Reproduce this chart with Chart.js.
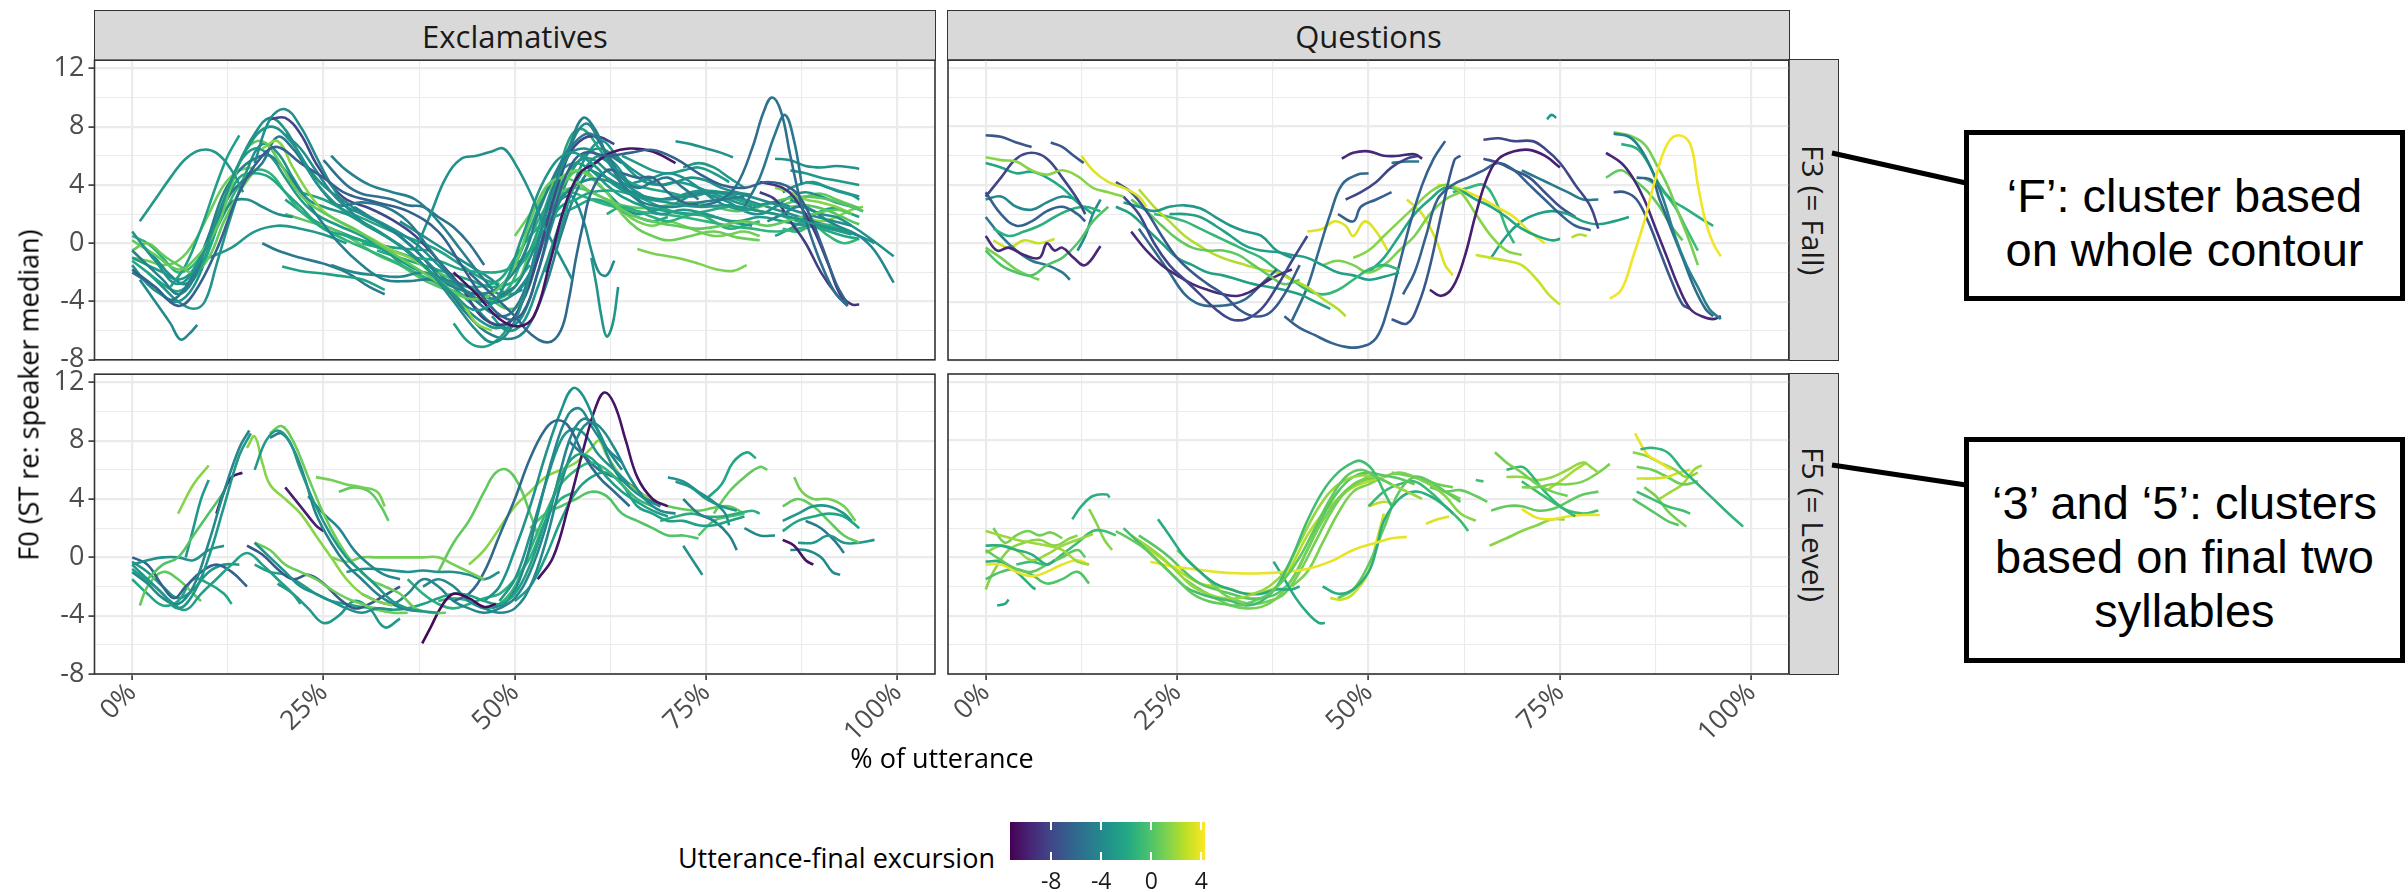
<!DOCTYPE html>
<html>
<head>
<meta charset="utf-8">
<script src="https://cdn.jsdelivr.net/npm/chart.js@4.4.1/dist/chart.umd.min.js"></script>
<style>
body { margin: 0; background: #fff; }
#wrap { position: relative; width: 2408px; height: 892px; overflow: hidden; font-family: "Open Sans", sans-serif; }
canvas { position: absolute; }
.strip { position: absolute; background: #D9D9D9; border: 1.6px solid #333; box-sizing: border-box;
  display: flex; align-items: center; justify-content: center; color: #1A1A1A; font-size: 31px; }
.strip.v span { writing-mode: vertical-rl; font-size: 30px; }
.title { position: absolute; color: #000; font-size: 27px; white-space: nowrap; }
.box { position: absolute; border: 5px solid #000; box-sizing: border-box; background: #fff; padding-top: 14px;
  display: flex; align-items: center; justify-content: center; text-align: center;
  font-family: "Liberation Sans", Arial, sans-serif; font-size: 47px; line-height: 54px; color: #000; }
.cb-label { position: absolute; font-size: 23px; color: #1A1A1A; transform: translateX(-50%); }
.cb-tick { position: absolute; width: 2px; background: #fff; }
</style>
</head>
<body>
<div id="wrap">
  <div class="strip" style="left:94px;top:10px;width:842px;height:51px;">Exclamatives</div>
  <div class="strip" style="left:947px;top:10px;width:843px;height:51px;">Questions</div>
  <div class="strip v" style="left:1788px;top:59px;width:51px;height:302px;"><span>F3 (= Fall)</span></div>
  <div class="strip v" style="left:1788px;top:373px;width:51px;height:302px;"><span>F5 (= Level)</span></div>

  <canvas id="cTL" width="940" height="340" style="left:0;top:40px;"></canvas>
  <canvas id="cTR" width="860" height="340" style="left:940px;top:40px;"></canvas>
  <canvas id="cBL" width="940" height="420" style="left:0;top:354px;"></canvas>
  <canvas id="cBR" width="860" height="420" style="left:940px;top:354px;"></canvas>

  <div class="title" style="left:28px;top:395px;transform:translate(-50%,-50%) rotate(-90deg);">F0 (ST re: speaker median)</div>
  <div class="title" style="left:942px;top:757px;transform:translate(-50%,-50%);">% of utterance</div>

  <div class="title" style="left:995px;top:857px;transform:translate(-100%,-50%);">Utterance-final excursion</div>
  <div id="colorbar" style="position:absolute;left:1010px;top:822px;width:195px;height:38px;"></div>

  <div class="box" style="left:1964px;top:130px;width:441px;height:171px;">‘F’: cluster based<br>on whole contour</div>
  <div class="box" style="left:1964px;top:437px;width:441px;height:226px;">‘3’ and ‘5’: clusters<br>based on final two<br>syllables</div>
  <svg style="position:absolute;left:0;top:0;" width="2408" height="892">
    <line x1="1832" y1="153" x2="1966" y2="183" stroke="#000" stroke-width="5"/>
    <line x1="1832" y1="465" x2="1966" y2="485" stroke="#000" stroke-width="5"/>
  </svg>
</div>

<script>
// Achsen
const xTicks = [0, 12.5, 25, 37.5, 50, 62.5, 75, 87.5, 100];
const yTicks = [-8, -6, -4, -2, 0, 2, 4, 6, 8, 10, 12];
const xRange = [-4.92, 104.9];
const yRange = [-8.0, 12.56];

// Farbskala (Utterance-final excursion)
const colorRange = [-11.3, 4.3];
const colorTicks = [-8, -4, 0, 4];
const viridisStops = ['#440154', '#482475', '#414487', '#355f8d', '#2a788e', '#21918c',
  '#22a884', '#44bf70', '#7ad151', '#bddf26', '#fde725'];

// Konturen: c = Farbwert, p = [% der Äußerung, F0]
const exclFall = [
  {c: -3.2, p: [[0,0.8],[3,-1.2],[6,-2.8],[9,-1],[12,3],[15,6.5],[18,8],[21,6.8],[24,4.2],[27,2.5],[30,1.4],[34,0.2],[38,-1.5],[42,-3.5],[45,-4.6],[48,-3.5],[51,0.5],[54,4.5],[57,6.2],[60,5.5],[63,4],[66,3.2],[70,2.8],[74,2.5],[78,2.6],[82,2.2],[86,1.8],[90,1.2],[94,0.8]]},
  {c: -6.5, p: [[0,-1.8],[3,-3],[6,-4.3],[8,-3.5],[11,-0.5],[14,3.5],[17,6],[19,6.6],[22,5.5],[25,4.5],[28,3.4],[32,2.8],[36,2.2],[40,0.8],[43,-1.5],[46,-3.8],[49,-5.2],[51,-4.8],[53,-2],[55,2],[57,5],[59,6.2],[62,6],[65,6.2],[68,6.4],[71,5.8],[74,4.8],[77,4],[80,3.8],[83,4.2],[86,3.8],[88,2.5],[90,0],[92,-2.8],[93.5,-4.2]]},
  {c: -10.5, p: [[42,-2],[45,-3.5],[48,-5.2],[50.5,-5.7],[52.5,-5],[54.5,-1.5],[56.5,2.5],[58.5,4.8],[60.5,5.5],[62.5,6.2],[65,6.5],[68,6.3],[71,5.5]]},
  {c: -4, p: [[1,-2.5],[3,-4],[5,-5.5],[6.3,-6.6],[7.5,-6.2],[8.5,-5.6]]},
  {c: -3.8, p: [[16,5.5],[18,8.5],[20,9.2],[22,8],[24,6],[26,4],[28,2.5],[30,1.5],[33,0.5],[36,-0.5],[39,-2],[42,-4],[45,-6],[47,-6.8],[49,-6.2],[51,-4],[53,0],[55,3.5],[57,6],[59,6.5],[61,6],[63,5.2],[65,4]]},
  {c: -3, p: [[1,1.5],[3,3],[5,4.5],[7,5.8],[9,6.4],[11,6.2],[13,5],[14.5,3.5]]},
  {c: -3.5, p: [[37,-0.5],[39,2],[41,4.5],[43,5.8],[45,6],[47,6.3],[48.5,6.5],[50,5.5],[52,3.5],[54,1],[56,-1],[57.5,-2.5]]},
  {c: -6, p: [[44,-2],[47,-3.5],[50,-5],[52,-6.2],[54.4,-6.8],[56,-6],[57,-4],[58,-1],[59,1.5],[60,3.5],[62,5],[64,4.8],[66,4.5],[68,4.5],[70,3.5],[72,2.8],[74,2.6]]},
  {c: -5.5, p: [[74,2.5],[77,3],[79,4],[81,6.5],[82.5,9],[83.6,10],[84.8,9],[86,6],[87.5,2.5],[89,0],[90.5,-2],[92,-3.5],[93.5,-4.3]]},
  {c: -5, p: [[80,2.5],[82,4.5],[84,7.5],[85.3,8.8],[86.5,7],[87.5,4]]},
  {c: -9, p: [[82,4.2],[85,3.8],[87,2.8],[89,1],[91,-1.5],[92.5,-3.5],[94,-4.2],[95,-4.2]]},
  {c: -3.5, p: [[84,5.8],[86,5.7],[88,5.3],[90,5.2],[92,5.3],[94,5.2],[95,5.1]]},
  {c: -3, p: [[86,5],[88,4.8],[90,4.5],[92,4.3],[95,4]]},
  {c: 0.5, p: [[0,0.2],[3,-0.8],[6,-1.8],[8,-1.2],[11,1],[13,4],[15,6.5],[17,7],[19,5.8],[21,4],[23,2.8],[26,1.8],[29,1],[32,0],[35,-1],[38,-2],[41,-3],[44,-3.8],[47,-3.5],[50,-1.5],[52,1.5],[54,3.8],[56,4.5],[58,4.2],[60,3.5],[62,3],[65,2],[68,1.5],[71,1.2],[74,1],[77,1.2],[80,1.5],[83,1.2],[86,1.6],[89,2],[92,2.3],[94,2]]},
  {c: 1.5, p: [[17,6.5],[19,7],[21,5.2],[23,3.5],[25,2.2],[28,1.2],[31,0.4],[34,-0.5],[37,-1.2],[40,-2.5],[43,-4],[45,-5.5],[47,-6]]},
  {c: -4.5, p: [[0,-0.5],[2,-1.5],[4,-2.5],[6,-3.5],[8,-2.5],[10,0.5],[12,3.5],[14,5],[16,5.8],[18,6],[20,5],[22,3.5],[24,2],[27,0],[30,-1.5],[33,-2.5],[36,-2.6],[39,-2.5],[42,-3],[45,-3.5],[48,-3],[51,-1],[53,2],[55,4.5],[57,6.5],[58.9,8.6],[60.5,7.8],[62,6],[64,4],[66,3],[68,2.6],[71,2.5],[74,2.8],[77,3],[80,3.2]]},
  {c: -2.5, p: [[5,-3],[7,-1.5],[9,1],[11,4],[12.5,6],[14,7.4]]},
  {c: -5, p: [[0,-2],[3,-3],[5,-3.9],[7,-3],[9,-1],[11,1.5],[13,3.5],[15,4.5],[17,5.5],[19,7.3],[21,6.5],[23,5],[25,3.5],[27,2.6],[30,2.8],[33,2.5],[36,1.5],[39,-0.5],[42,-2.5],[45,-4],[48,-5],[50,-4.5],[52,-2],[54,2],[56,5.2],[58,7],[60,7.5],[62,6.2],[64,4.5],[66,3.8],[68,4.2],[70,4.5],[72,3.8],[74,3]]},
  {c: -8, p: [[18,8.5],[20,8.6],[22,7.5],[24,5.5],[26,4],[28,3],[31,2.4],[34,1.6],[37,0.5],[40,-1.2],[43,-3],[46,-5.2],[49,-5.5],[51,-4],[53,-1],[55,3],[57,6],[59,7.2],[61,7.3],[63,6.8]]},
  {c: -3.8, p: [[20,7.5],[22,6.5],[24,5],[26,3.5],[28,2.5],[31,1.8],[34,1],[37,0],[40,-1.5],[43,-3],[46,-4],[49,-3.8],[52,-2.2],[54,0.5],[56,3],[58,4],[60,4.4],[62,4.3],[64,3.8],[67,3.2],[70,3],[73,3.3],[76,3.5],[79,3.4],[82,3],[85,2.5],[88,2],[91,1.6],[94,1.2]]},
  {c: -2, p: [[0,-1.2],[2,-2],[4,-2.8],[6,-3.3],[8,-2.5],[10,-0.5],[12,2.5],[14,4.5],[16,4.8],[18,4.5],[20,3.5],[22,2.5],[25,1],[28,0.5],[31,0],[34,-0.5],[37,-1],[40,-1.2],[43,-1.8],[46,-2],[49,-1.8],[52,-0.5],[54,1],[56,2.5],[58,3],[60,3.5],[63,3.6],[66,3.2],[69,2.5],[72,2],[75,2.2],[78,2.5],[81,2.3],[84,2],[87,1.5],[90,1],[93,0.5],[95,0.3]]},
  {c: -4, p: [[26,-1.5],[29,-2],[32,-2.2],[35,-2.3],[38,-2],[41,-2.5],[44,-3],[47,-3.8],[50,-3],[52,-1],[54,1.5],[56,3],[57.5,3.2],[59,1.5],[60,-0.5],[61,-2],[62,-2.2],[63,-1.2]]},
  {c: -3.2, p: [[60,-1],[60.7,-3],[61.3,-5],[62,-6.4],[62.8,-5.5],[63.5,-3]]},
  {c: -3.5, p: [[71,7],[73,6.8],[75,6.5],[77,6.2],[78.5,5.9]]},
  {c: -2.8, p: [[72,5.2],[74,5.5],[76,5.2],[78,4.5],[80,3.8]]},
  {c: 0.8, p: [[50,0.5],[52,2],[54,3.5],[56,4.5],[58,5],[60,4.5],[62,3.5],[64,2],[66,1],[68,0.5],[70,0.2],[73,0.5],[76,0.8],[79,0.4],[82,0.2]]},
  {c: 1.2, p: [[66,-0.4],[68,-0.7],[70,-0.9],[72,-1.1],[74,-1.4],[76.4,-1.8],[78.5,-1.9],[80.3,-1.5]]},
  {c: -4.2, p: [[83,1.5],[85,2],[87,2.5],[89,2.2],[91,1.5],[93,1],[95,0.5],[97,-0.5],[99.5,-2.7]]},
  {c: -3.5, p: [[86,3],[88,2.5],[90,2],[92,1.8],[94,1.2],[96,0.5],[99.5,-0.9]]},
  {c: -8.5, p: [[82,3.5],[84,3],[86,1.5],[88,0],[90,-2],[92,-3.5],[93.5,-4.3]]},
  {c: 1.5, p: [[84,3.8],[86,3.5],[88,3],[90,2.8],[92,2.5],[94,2]]},
  {c: -1, p: [[85,1],[87,0.8],[89,1.2],[91,0.5],[93,0],[95,0.3]]},
  {c: 0.5, p: [[0,-0.5],[2,0],[4,-0.8],[6,-1.5],[8,-2],[10,-1],[12,1.5],[14,3.5],[16,5]]},
  {c: -2.5, p: [[19.6,-1.6],[22,-1.9],[25.2,-2.1],[28,-2.3],[30.2,-2.5],[33,-3.2]]},
  {c: -5, p: [[17,0],[19,-0.5],[22,-1],[25,-1.4],[28,-2],[31,-3],[33,-3.5]]},
  {c: -4.5, p: [[26,6],[28,5],[31,4],[34,3.5],[37,3],[40,1.5],[43,-0.5],[46,-2.5],[48,-3.5],[50,-3]]},
  {c: -3, p: [[47,-5],[49,-6],[51,-5.5],[53,-3],[55,0],[57,3],[59,5],[61,6],[63,5.5],[65,4],[67,2.5],[69,2],[72,2.3],[75,2],[78,1.5],[81,1.2]]},
  {c: -4, p: [[50,-3.5],[52,-2],[54,1],[56,4.5],[58,7.5],[59.5,8.2],[61,7],[63,5],[65,3.5],[67,2.5]]},
  {c: 0, p: [[40,-2],[43,-2.8],[46,-3.5],[49,-4.5],[51,-4],[53,-1],[55,2.5],[57,4.5],[59,5],[61,4]]},
  {c: -2.5, p: [[42,-5.5],[44,-6.8],[46,-7.1],[48,-6.5],[49.5,-5.5]]},
  {c: -4.5, p: [[29,2.5],[32,1.5],[35,0.5],[38,-1],[41,-3],[44,-5],[47,-6.3],[50,-6.5],[52,-5.5],[54,-3],[56,0.5],[58,3.5],[60,5.2],[62,6],[64,5.5]]},
  {c: -3.8, p: [[1,0],[3,-1],[5,-2.2],[7,-2.8],[9,-1.5],[11,1],[13,2.8],[15,3],[17,2.5],[19,2],[21,1.8]]},
  {c: -3, p: [[10,-1],[13,-0.3],[16,0.8],[19,1.2],[22,1],[25,0.6],[28,0]]},
  {c: -5.5, p: [[25,5.7],[28,4],[30,3.4],[32,3.2],[34,3],[36,2.6],[38,2.5],[40,1.8],[42,1.1],[44,0],[46,-1.5]]},
  {c: -2.2, p: [[50,-2],[52,-0.5],[54,2.5],[56,5.5],[57.5,7.5],[59,7.8],[61,6.5],[63,5],[65,4.2],[67,3.8],[70,3.5],[73,3.2],[76,3.5],[79,3],[82,2.5]]},
  {c: -3.5, p: [[60,5],[62,4.5],[64,4],[66,4.2],[68,4.5],[70,4.8],[72,4.5],[74,3.8],[76,3],[78,2.5],[80,2.3],[82,2.6],[84,2.8],[86,2.5]]},
  {c: 0.2, p: [[86,2.5],[88,2.6],[90,2.4],[92,2],[94,1.5],[95,1.3]]},
  {c: -1.5, p: [[62,2],[64,2.5],[66,2.2],[68,1.8],[70,1.5],[72,1.8],[74,2],[76,1.5],[78,1],[80,1.2],[82,1.5]]},
  {c: -2.8, p: [[0,-1],[2,-1.5],[4,-2],[6,-2.5],[8,-1.8],[10,0.5],[12,3],[14,5.5],[16,6.5],[18,6],[20,4.5],[22,3],[24,2],[27,1.2],[30,0.5],[33,-0.5],[36,-1.5],[39,-2.2],[42,-2.8],[45,-3.5],[48,-3],[50,-1.5],[52,1],[54,3.5],[56,5],[58,5.5],[60,5],[62,4],[64,3.2],[67,2.5],[70,2.2],[73,2],[76,1.8],[79,1.5],[82,1.8],[85,1.5],[88,1.2],[91,1],[94,0.6]]},
  {c: -1.2, p: [[0,0.5],[2,0],[4,-1],[6,-2],[8,-1.5],[10,0],[12,2],[14,4],[16,5],[18,4.8],[20,3.5],[22,2.2],[25,1],[28,0.2],[31,-0.5],[34,-1.2],[37,-2],[40,-2.8],[43,-3.5],[46,-4],[49,-3.2],[51,-1],[53,1.5],[55,3],[57,3.5],[59,3.2],[61,2.8],[63,2.5],[66,2.2],[69,2],[72,1.8],[75,1.5],[78,1.2],[81,1],[84,0.8],[87,1],[90,1.3],[93,1]]},
  {c: 0.2, p: [[20,2],[23,1.5],[26,1],[29,0.2],[32,-0.8],[35,-1.5],[38,-2.5],[41,-3.2],[44,-3.8],[47,-4],[50,-3],[52,-0.5],[54,2],[56,3.5],[58,3.8],[60,3.5],[62,3],[64,2.6],[67,2.4],[70,2.6],[73,2.8],[76,2.5],[79,2.2],[82,2.5],[85,3],[88,3.2],[91,3],[94,2.5],[95.5,2.2]]},
  {c: -3.3, p: [[2,-2],[4,-3],[6,-4],[8,-4.5],[9.5,-4],[11,-1.5],[13,2],[15,5],[17,6.8],[19,6.2],[21,4.5],[23,3],[25,2.5],[28,2],[31,1.2],[34,0.2],[37,-1],[40,-2.5],[43,-4.2],[46,-5.5],[48,-5.8],[50,-5],[52,-2.5],[54,1],[56,4],[58,5.5],[60,5.8],[62,5],[64,4.2],[66,3.5],[68,3],[71,3.2],[74,3.6],[77,3.5],[80,3],[83,2.5],[86,2],[89,1.5],[92,1],[95,0.5],[97,0]]},
  {c: -2, p: [[30,0],[33,-0.5],[36,-1.8],[39,-2.5],[42,-2.8],[45,-3],[48,-2.5],[50,-1],[52,0.5],[54,1.5],[56,2],[58,2.5],[60,3],[62,2.8],[64,2.2],[66,1.8],[68,1.5],[70,1.8]]},
  {c: -3.6, p: [[60,4.5],[62,3.5],[64,2.5],[66,2],[68,2.2],[70,2.5],[72,3],[74,3.5],[76,3.2],[78,2.8],[80,2.2],[82,2],[84,2.5],[86,3.2],[88,3.5],[90,3.2],[92,2.8],[94,2.5],[95.5,2.2]]},
  {c: 1, p: [[62,3],[64,2.2],[66,1.5],[68,1.2],[70,1.5],[72,1.2],[74,0.8],[76,0.5],[78,0.6],[80,0.8],[82,0.5]]},
  {c: 0.5, p: [[84,2.5],[86,2.8],[88,3.2],[90,3.4],[92,3],[94,2.6],[95,2.4]]},
  {c: -2.5, p: [[84,0.5],[86,1],[88,1.6],[90,2.2],[92,2.4],[94,2],[95,1.8]]},
  {c: -3, p: [[85,3.5],[87,4],[89,4.2],[91,3.8],[93,3.5],[95,3.2]]},
  {c: -3.4, p: [[0,-1.5],[2,-2.8],[4,-3.6],[6,-4],[8,-3],[10,-0.5],[12,2.5],[14,5.5],[16,7.5],[18,8.6],[20,7.8],[22,6],[24,4.5],[26,3.5],[28,2.8],[30,2],[33,1.2],[36,0],[39,-1.5],[42,-3],[45,-4.5],[47,-5.5],[49,-5.8],[51,-5],[53,-2],[55,1.5],[57,4.5],[59,6],[61,6.5],[63,6],[65,5.2],[67,4.5],[69,4],[71,4.2],[73,4.5],[75,4.3],[77,3.8],[79,3.5],[81,3.3]]},
  {c: -1.8, p: [[32,-0.5],[35,-1],[38,-1.5],[41,-2],[44,-2.5],[47,-3],[50,-2.6],[52,-1.5]]},
  {c: -3.8, p: [[35,1.5],[38,0.5],[41,-0.5],[44,-1.5],[47,-2.5],[49,-3.5],[51,-3.2]]},
  {c: 0.8, p: [[0,-1],[2,-1.2],[4,-1.5],[6,-1.2],[8,0],[10,2],[12,4],[14,5],[16,5.2]]},
  {c: -2.2, p: [[22,3.5],[25,3],[28,2.2],[31,1.5],[34,0.8],[37,0.2],[40,-0.5],[43,-1.5],[46,-2.5],[48,-2.8]]},
  {c: -3, p: [[54,-2],[56,1],[58,4.5],[60,6.5],[61.5,7],[63,6.2],[65,5],[67,4.2],[69,4],[71,4.2],[73,4],[75,3.6],[77,3.2],[79,2.8],[81,2.5]]},
  {c: -2.8, p: [[64,6],[66,5.5],[68,5],[70,4.8],[72,5],[74,5.2],[76,4.8],[78,4.2]]},
  {c: 1.3, p: [[88,1.8],[90,1.5],[92,1.8],[94,2.3],[95.5,2.5]]},
  {c: -3.2, p: [[88,4.2],[90,4],[92,3.6],[94,3.3],[95,3]]},
  {c: -2.6, p: [[20,3],[22,2.2],[24,1.5],[27,0.8],[30,0.2],[33,-0.2],[36,-0.4],[39,-0.5]]}
];

const questFall = [
  {c: -7, p: [[0,7.4],[2,7.3],[4,6.9],[6,6.6]]},
  {c: -7, p: [[8.5,6.9],[10,6.6],[11.5,6],[12.8,5.5]]},
  {c: 1.5, p: [[0,5.9],[2,5.7],[4,5.6],[6,5],[8,4.7],[10,5],[12,4.6],[14,3.8],[16,3.5],[18,3.2]]},
  {c: -8, p: [[0,3.2],[2,4.5],[4,5.8],[6,6.2],[8,5.8],[10,4.5],[12,3],[13,2]]},
  {c: -2, p: [[0,5.5],[2,5.2],[4,4.8],[6,4.9],[8,4.5],[10,3.8],[12,2.8],[14,2]]},
  {c: -9.5, p: [[0,0.5],[1.5,-0.5],[3,-0.3],[5,-0.8],[7,-1],[8,0],[9,-0.5],[10,-0.3],[11.5,-1],[13,-1.5],[15,-0.2]]},
  {c: -6.5, p: [[0,3.5],[2,2],[4,1.2],[6,1.5],[8,2.2],[10,2.5],[12,2],[13,1.5]]},
  {c: 0, p: [[0,-0.5],[2,-1.5],[4,-2],[6,-2.2],[8,-1.5],[10,-1],[12,0],[14,1.5],[16,2.5]]},
  {c: -1.5, p: [[1,1],[3,0.5],[5,0.8],[7,1.2],[9,1.8],[11,2.3],[13,2.5],[15,2.2]]},
  {c: -5, p: [[0,1.8],[2,0.5],[4,-0.5],[6,-1.2],[8,-1.5],[10,-2],[11,-2.5]]},
  {c: 1, p: [[0,-0.3],[2,-1],[4,-1.8],[6,-2.3],[7,-2.5]]},
  {c: -4, p: [[12,-0.5],[13,0.5],[14,2],[15,3]]},
  {c: 3, p: [[1,0.2],[3,-0.3],[5,0.2],[7,0],[9,0.3]]},
  {c: -4, p: [[0,3],[2,3.2],[4,2.5],[6,2.3],[8,2.8],[10,3.2],[12,3]]},
  {c: 3.5, p: [[12.5,6],[14,5],[16,4.2],[18,3.8],[20,3.2],[21,2.5]]},
  {c: -7, p: [[17,4.2],[19,3.5],[21,2.2],[23,0.5],[25,-1],[27,-2],[29,-2.8],[31,-3.5],[33,-4.5],[35,-5],[37,-4.8],[39,-3.5],[41,-1.5]]},
  {c: -8, p: [[18,3.2],[20,2],[22,0],[24,-1.5],[26,-2.5],[28,-3.5],[30,-4.5],[32,-5.2],[34,-5.2],[36,-4.5],[38,-3],[40,-1.2],[42,0.5]]},
  {c: -3, p: [[18,2.8],[20,2.5],[22,2.2],[24,2.5],[26,2.6],[28,2.4],[30,1.8],[32,1.2],[34,0.8],[36,0.5],[38,-0.5],[40,-1]]},
  {c: 0.5, p: [[19,3],[21,2.2],[23,1.2],[25,0.3],[27,-0.3],[29,-0.5],[31,-0.5],[33,-0.8],[35,-1.5],[37,-2.2],[39,-2.8],[41,-2.5]]},
  {c: -9.5, p: [[19,0.8],[21,-0.5],[23,-1.5],[25,-2.2],[27,-2.8],[29,-3.2],[31,-3.5],[33,-3.6],[35,-3.2],[37,-2.5],[39,-2],[40,-1.8]]},
  {c: -6, p: [[20,1],[22,-0.5],[24,-2],[26,-3.5],[28,-4.2],[30,-4.3],[32,-4.2],[34,-3.8],[36,-2.8],[38,-1.8]]},
  {c: 2.5, p: [[20,3.7],[22,2.5],[24,1.5],[26,0.5],[28,-0.2],[30,-0.8],[32,-1.2],[34,-1.5],[36,-1.8],[38,-2],[40,-2.5],[42,-3],[44,-3.8],[46,-4.5],[47,-5]]},
  {c: -1, p: [[22,2],[24,1.8],[26,1.5],[28,1],[30,0.5],[32,0],[34,-0.5],[36,-1],[38,-1.8],[40,-2.5],[42,-3.2],[44,-3.5],[46,-3.2],[48,-2.5],[50,-1.8],[52,-1.5],[54,-1.8]]},
  {c: -2.5, p: [[24,2],[26,2],[28,1.8],[30,1.2],[32,0.5],[34,-0.2],[36,-0.5],[38,-0.6],[40,-0.8],[42,-1],[44,-1.5],[46,-2],[48,-2.2],[50,-2.5],[52,-2.3],[54,-2]]},
  {c: -2.5, p: [[17,2.5],[19,2],[21,1],[23,0],[25,-1],[27,-1.5],[29,-2],[31,-2.2],[33,-2.5],[35,-2.8],[37,-3],[39,-3.2],[41,-3.5],[43,-4],[45,-4.5]]},
  {c: -6.5, p: [[39,-5],[41,-5.8],[43,-6.3],[45,-6.8],[47,-7.1],[49,-7.1],[51,-6.5],[52.5,-4.5],[54,-1.5],[55.5,1.5],[57,4],[58.5,5.8],[60,7]]},
  {c: -6, p: [[40,-5.3],[42,-3],[43.5,-0.5],[45,2],[46.5,4],[48.5,4.7],[50,4.8]]},
  {c: -9.5, p: [[46.5,5.8],[48,6.2],[50,6.3],[52,6],[54,6],[56,6.1],[57,5.8]]},
  {c: -8, p: [[47,3],[49,3.5],[51,4.2],[53,5.2],[55,5.8],[56.5,6]]},
  {c: -6.5, p: [[46,2],[48,1.5],[49,2.5],[51,3],[53,3.5]]},
  {c: -5, p: [[53,5.5],[55,5.6],[56.6,5.6]]},
  {c: -10, p: [[58,-3.2],[59.5,-3.6],[61,-3],[62.5,-1],[64,2],[65.5,4.5],[67,5.8],[69,6.3],[71,6.4],[73,6],[75,5.2]]},
  {c: -7, p: [[53,-5.2],[55,-5.5],[56.5,-4.2],[58,-1.6],[59.5,2],[61.2,5.7],[62,6]]},
  {c: -6.5, p: [[54.5,-3.5],[56,-2],[57.5,0.5],[59,3],[61,4],[63,4.5],[65,5],[67,5.5],[69,5],[71,4],[73,3],[75,2],[77,1.2],[79,0.9]]},
  {c: -8, p: [[65,7.1],[67,7.2],[69,7],[71.4,7],[73,6.5],[75,5.5],[77,4],[79,2.5],[80,1]]},
  {c: 1.5, p: [[48,-1],[50,-0.5],[52,0.5],[54,1.5],[56,2.5],[58,3.5],[60,4],[62,3.5],[64,2],[66,0.5],[68,-0.5],[70,-0.8]]},
  {c: 1.2, p: [[44,-1.5],[46,-1.2],[48,-1.5],[50,-2],[52,-1.5],[54,-0.5],[56,0.5],[58,2],[60,3],[62,3.5]]},
  {c: -2, p: [[50,-2],[52,-1],[54,0.5],[56,2],[58,3],[60,3.8],[62,3.6],[64,3],[66,2.5],[68,1.8],[70,1],[72,0.5],[74,0.2],[75,0.3]]},
  {c: 3.5, p: [[42,0.8],[44,1],[45.5,1.5],[47,1.2],[48,0.5],[49.5,1.5],[51,0.8],[52.5,-0.5]]},
  {c: 3.5, p: [[55,3],[57,2],[59,0],[60,-1.5],[61,-2.2]]},
  {c: 3, p: [[64,-0.8],[66,-1],[68,-1.2],[70,-1.5],[72,-2.5],[73.5,-3.5],[75,-4.2]]},
  {c: 3.8, p: [[59,4],[61,3.9],[63,3.5],[65,3],[67,2.4],[69,1.8],[71,0.8],[73,0]]},
  {c: 4, p: [[81.5,-3.8],[83,-3.2],[84.5,-1],[86,1.5],[87.5,4.5],[89,6.8],[90.5,7.4],[92,6.8],[93,4],[94,1.5],[95,0],[96,-0.9]]},
  {c: -4.5, p: [[82,7.5],[84,7.3],[85.5,6.5],[87,5],[88.5,3],[90,0.5],[91.5,-1.5],[93,-3],[94.5,-4.5],[96,-5.2]]},
  {c: -9.5, p: [[81,6.2],[83,5.5],[84.5,4.5],[86,3],[87.5,1],[89,-1],[90.5,-3],[92,-4.5],[93.5,-5],[95,-5.2],[96,-5]]},
  {c: 1, p: [[82,7.6],[84,7.4],[86,6.8],[87.5,5.5],[89,4],[90.5,2],[92,0],[93,-1.5]]},
  {c: -1.5, p: [[83,6.8],[85,6.5],[86.5,5.5],[88,4],[89.5,3],[91,2.5],[92.5,2],[94,1.5],[95,1.2]]},
  {c: -7, p: [[82,3.5],[83.5,3.5],[85,3],[86.5,1.5],[88,-0.5],[89.5,-2.5],[91,-4.2],[92,-4.5]]},
  {c: -6, p: [[85,4.5],[87,4.3],[88,3],[89.5,1],[91,-1],[92.5,-3],[94,-4.5],[95,-5]]},
  {c: -0.5, p: [[86,4.5],[88,3.8],[90,2.5],[91.5,1],[93,-0.5]]},
  {c: 0.5, p: [[81,4.5],[83,5],[85,4.2],[86.5,3.5],[88,2.5],[89.5,1.2],[91,0.2]]},
  {c: -3, p: [[73.3,8.5],[73.9,8.8],[74.5,8.6]]},
  {c: 2.5, p: [[76.5,0.4],[77.5,0.6],[78.5,0.5]]},
  {c: -2.5, p: [[66,-1],[68,0.5],[70,1.5],[72,2],[74,2.2],[76,2],[78,1.5],[80,1.3],[82,1.5],[84,1.8]]},
  {c: -5, p: [[70,5],[72,4.5],[74,4],[76,3.5],[78,3],[80,3]]},
  {c: -1, p: [[61,3.5],[63,3.8],[65,4],[66.5,3],[68,1],[69,0]]},
  {c: -7.5, p: [[65,5.8],[67,5.5],[69,5],[71,4.5],[73,3.5],[75,2.5],[77,1.8]]}
];

const exclLevel = [
  {c: -3, p: [[0,-0.5],[2,-1.5],[4,-2.5],[6,-3.5],[8,-2.5],[10,0],[12,3.5],[14,7],[15.5,8.5]]},
  {c: -4, p: [[0,-1],[2,-1.8],[4,-2.8],[6,-3.2],[8,-2],[10,1],[12,4.5],[14,7.5],[15.3,8.7]]},
  {c: -10.5, p: [[11,3],[12,4.5],[13,5.5],[14.4,5.8]]},
  {c: 0, p: [[2,-1.5],[4,-0.5],[6,0],[8,1.5],[10,3],[12,4.5]]},
  {c: -3, p: [[7,0],[8,2],[9,4],[10,5.3]]},
  {c: 1.5, p: [[6,3],[8,5],[10,6.3]]},
  {c: -2.5, p: [[0,-0.8],[3,-2],[5,-3],[7,-3.6],[9,-2.5],[11,-1.5],[13,-0.5],[15,0.3],[17,-0.5],[19,-1.5],[21,-2.5],[22,-3.2]]},
  {c: -3.5, p: [[0,-0.5],[2,-0.2],[4,0],[6,0],[8,-0.2],[10,0.5],[12,0.8]]},
  {c: -6.5, p: [[0,0],[2,-0.5],[4,-2],[5.5,-2.8],[7,-2],[9,-1],[11,-0.5],[13,-1],[15,-2]]},
  {c: 0.5, p: [[1,-3.3],[2,-2],[4,-1],[6,-1.5],[8,-2.5],[9,-3]]},
  {c: -2, p: [[0,-1.5],[2,-2.5],[4,-3.3],[6,-3],[8,-1.5],[10,-1.8],[12,-2.5],[13,-3.2]]},
  {c: -3, p: [[0,-0.3],[2,-1],[4,-2],[6,-2.8],[8,-2.2],[10,-1],[12,-0.5],[14,-0.5]]},
  {c: -3, p: [[16,6],[17.5,8],[19,8.7],[20.5,8],[22,6],[24,3.5],[26,1.5],[28,0],[30,-1],[32,-2],[34,-3],[36,-3.5],[38,-3.7],[40,-3.8]]},
  {c: 1.5, p: [[15,7.5],[16,8.3],[17,6.5],[18,5],[20,4],[22,3],[24,1.5],[26,0],[28,-1.5],[30,-2.5],[32,-3],[34,-3.3]]},
  {c: 0.8, p: [[18,8.5],[19.5,9],[21,8],[23,5.5],[25,3],[27,1],[29,-0.5],[31,-1.5],[33,-2],[35,-2.5],[37,-3.5],[39,-3.8],[41,-3.8]]},
  {c: -4.5, p: [[18,8.2],[19.5,8.5],[21,7.5],[22.5,5.5],[24,3],[26,1],[28,-0.5],[30,-1.5],[32,-2.5],[34,-3.2],[36,-3.6],[38,-3.7]]},
  {c: -10, p: [[20,4.8],[22,3.5],[24,2.2],[25,1.8]]},
  {c: -4, p: [[23,4.2],[25,3],[27,2],[29,0.5],[31,-0.5],[33,-1.2],[35,-1.5]]},
  {c: 1, p: [[24,5.5],[26,5.3],[28,5],[30,4.8],[32,4.5],[33,3.5]]},
  {c: 0.5, p: [[27,4.5],[29,4.8],[31,4.5],[32.5,3.5],[33.5,2.5]]},
  {c: -3.5, p: [[16,1],[18,0],[20,-1],[22,-2],[24,-2.5],[26,-3],[28,-3.5],[30,-3.8],[32,-3.5],[34,-3.6]]},
  {c: 0.8, p: [[16,1],[18,0.5],[20,-0.5],[22,-1],[24,-1.5],[26,-2.2],[28,-2.8],[30,-3.2],[32,-3.6],[34,-3.8],[36,-3.8]]},
  {c: -7, p: [[15,0.8],[17,0.2],[19,-0.8],[21,-1.5],[23,-1.2],[25,-1.8],[27,-2.8],[29,-3.5],[31,-3.2],[33,-2.6],[35,-2]]},
  {c: -3, p: [[19,-1.8],[21,-2.5],[23,-3.5],[25,-4.5],[27,-4],[29,-3],[31,-3.5],[33,-4.8],[35,-4.2]]},
  {c: 1, p: [[26,0],[28,-0.3],[30,0],[32,0],[34,0],[36,0],[38,0],[40,0],[42,-0.5],[44,-1],[46,-1.5]]},
  {c: -3.5, p: [[28,-1],[30,-0.8],[32,-0.8],[34,-0.9],[36,-1],[38,-0.9],[40,-1],[42,-1],[44,-1.2],[46,-1.5],[48,-1]]},
  {c: -11, p: [[37.9,-5.9],[39,-4.8],[40.5,-3.3],[42,-2.5],[44,-2.8],[46,-3.4],[47.5,-3.2]]},
  {c: -2.5, p: [[16,-0.5],[18,-1],[20,-1.2],[22,-1.8],[24,-2.5],[26,-3],[28,-3.2],[30,-3.4],[32,-3.5],[34,-3.6],[36,-3.5],[38,-3.2],[40,-2.8],[42,-2.5],[44,-2.6],[46,-3],[48,-3.2],[50,-2.5],[52,-0.5],[54,2.5],[56,5.5],[58,7],[60,6.8],[62,5.5],[64,4.5],[66,3.8],[68,3.2],[70,2.8]]},
  {c: -4, p: [[38,-2],[40,-1.5],[42,-2],[44,-3],[46,-3.5],[48,-3.8],[50,-3.5],[52,-2],[54,1],[56,5],[58,8],[59.5,9.2],[61,9],[63,7.5],[65,5.5],[67,4],[69,3.2],[71,3]]},
  {c: -6, p: [[42,-3],[44,-2.5],[46,-1],[48,1.5],[50,4],[52,6.8],[54,8.8],[55.5,9.4],[57,9],[59,7],[61,5.5],[63,4.5],[65,3.5]]},
  {c: -3.5, p: [[46,-3],[48,-2],[50,0.5],[52,3.5],[54,7],[56,10],[57.6,11.6],[59,11],[61,8.5],[63,6],[65,4.8],[67,4],[69,3.5]]},
  {c: -10.5, p: [[53,-1.5],[55,0],[57,3.5],[59,7.5],[60.5,10.2],[61.7,11.3],[63,10.5],[64.5,8],[66,5.5],[68,4],[70,3.5]]},
  {c: -4, p: [[47,-3.5],[49,-3],[51,-1],[53,3],[55,7],[57,9.8],[58.5,10.2],[60,9],[62,7.5],[64,6.5]]},
  {c: -3.2, p: [[48,-3],[50,-1.5],[52,1.5],[54,5],[56,8],[57.5,8.8],[59,8.5],[61,7],[63,6],[65,5]]},
  {c: -4.2, p: [[30,-2.5],[32,-3],[34,-3.2],[36,-2.5],[38,-1.5],[40,-2],[42,-3],[44,-3.5],[46,-3.8],[48,-3.5],[50,-2.8],[52,-1],[54,2],[56,6],[57.5,8.5],[59,9.5],[60.5,9],[62,7.5],[64,6]]},
  {c: -1, p: [[40,-3],[42,-2.8],[44,-3],[46,-3.5],[48,-3.2],[50,-2],[52,0.5],[54,3],[56,5],[58,6],[60,6.5],[62,6],[64,5],[66,4],[68,3.5]]},
  {c: 0.5, p: [[40,-1],[42,1],[44,2.5],[46,4.5],[47.5,5.8],[49,6],[50.5,5],[52,3],[53,1.5]]},
  {c: 1.5, p: [[44,-0.5],[46,0.5],[48,2],[50,3.5],[52,4.5],[54,5.5],[56,6],[58,6.5],[60,7.5],[61,8],[62,7],[64,5.5],[66,4.5],[68,4]]},
  {c: -2.5, p: [[50,-3],[52,-2],[54,0],[56,2.5],[58,4.5],[60,5.5],[62,5.8],[64,5],[66,3.5],[68,3],[70,2.5],[72,2.5],[74,2.2],[76,2.2],[78,2.5],[80,2.8]]},
  {c: 0, p: [[52,2],[54,3],[56,3.5],[58,4],[60,4.5],[62,4.2],[64,3],[66,2.5],[68,2],[70,1.5],[72,1.5],[74,1.3]]},
  {c: -5, p: [[57,8],[59,7],[61,6],[63,5.5],[65,5],[67,4.2],[69,3.5]]},
  {c: -1.5, p: [[36,-1.5],[38,-2.5],[40,-3.2],[42,-3.5],[44,-3.2],[46,-2.8],[48,-2.5],[50,-1.5],[52,0],[54,2.5],[56,4],[58,4.5]]},
  {c: -3.5, p: [[70,5.5],[72,5.2],[74,4.5],[76,3.8],[77.5,3],[78,2.2]]},
  {c: -3, p: [[71,5.2],[73,4.8],[75,4],[77,3.5],[79,3.2]]},
  {c: -4.5, p: [[72,4],[74,3],[76,2.5],[78,1.5],[79,0.5]]},
  {c: -2, p: [[75,4],[77,5],[78.5,6.5],[80.3,7.2],[81.5,6.8]]},
  {c: 0.5, p: [[76,3],[78,4.5],[80,5.5],[82,6.2],[83,6]]},
  {c: -1.5, p: [[69,2.5],[71,2.8],[73,3],[75,2.8],[77,2.8],[79,3],[81,3.2],[82,3]]},
  {c: 0.5, p: [[70,3.5],[72,3.3],[74,3.2],[76,3.4],[78,3.5],[80,3]]},
  {c: -3.5, p: [[72,0.8],[73,0],[74,-0.8],[74.5,-1.2]]},
  {c: 0, p: [[74,1.5],[76,2.5],[78,2.8],[80,3]]},
  {c: -4, p: [[80,2],[82,1.5],[84,1.5]]},
  {c: -10.5, p: [[85,1.2],[86.5,0.8],[88,-0.2],[89,-0.5]]},
  {c: -3, p: [[85,2.5],[87,3],[89,3.5],[91,3.5],[93,3],[94,2.5]]},
  {c: 1, p: [[86.5,5.5],[87.5,4.5],[89,4],[91,4],[93,3.5],[94.5,2.5]]},
  {c: -2, p: [[85,1.8],[87,2.5],[89,2.8],[91,3],[93,2.8],[95,2]]},
  {c: -4, p: [[86,0.5],[88,0.5],[90,0],[91.5,-1],[92.5,-1.2]]},
  {c: 0.5, p: [[85,3.5],[87,4],[89,3.5],[91,2.5],[93,1.5],[95,1]]},
  {c: -3, p: [[87,1],[89,1],[91,1.5],[93,1],[95,1],[97,1.2]]},
  {c: -5, p: [[88,2.5],[90,2],[92,1],[93,0.3]]}
];

const questLevel = [
  {c: 2, p: [[0,1.8],[2,1.5],[4,1.2],[6,1],[8,0.8],[10,0.5],[12,-0.3],[13.5,-0.5]]},
  {c: 1, p: [[1,2],[2.5,1],[4,1.5],[5.5,1.8],[7,1.5],[8.5,1.7],[10,1.3]]},
  {c: -1.5, p: [[0,0.8],[2,0.8],[4,0.5],[6,0.2],[8,-0.5],[9,-0.2]]},
  {c: 0.5, p: [[0,0.5],[2,-0.2],[4,-0.8],[6,-1],[8,-0.5],[10,0],[12,0.5],[13,0]]},
  {c: 3.8, p: [[0,-0.5],[2,-0.5],[4,-1],[6,-1.3],[8,-1],[10,-0.5],[12,-0.2],[13.5,-0.5]]},
  {c: 0, p: [[0,-1.5],[2,-1],[4,-0.8],[6,-1.2],[8,-1.8],[10,-1.5],[12,-1],[13.5,-1.8]]},
  {c: -1.5, p: [[0,-0.3],[2,-0.3],[4,-1],[6,-2],[6.5,-2.2]]},
  {c: 1.5, p: [[0,-2.2],[1,-1],[3,0.5],[5,1],[7,1.2],[9,0.8],[11,1.3],[12,1.5]]},
  {c: 1.8, p: [[0,0.3],[2,0.8],[4,0.5],[6,-0.2],[8,0.2],[10,0.8],[12,1.2],[14,1.6]]},
  {c: -0.5, p: [[4,-0.5],[6,-0.3],[8,-0.5],[10,0.2],[12,1],[14,1.8],[15.5,1.8],[17,1.5]]},
  {c: -1.5, p: [[11.3,2.6],[12.5,3.5],[14,4.2],[15.8,4.3],[16.2,4.1]]},
  {c: 1.5, p: [[13.5,3.3],[14.5,2.3],[15.5,1.2],[16.5,0.5]]},
  {c: -2, p: [[1.5,-3.3],[2.5,-3.2],[3,-2.9]]},
  {c: 0.5, p: [[17,1.8],[19,1.2],[21,0.5],[23,-0.5],[25,-1.5],[27,-2.5],[29,-3],[31,-3.2],[33,-3.3],[35,-3],[37,-2.5],[39,-1.5],[41,0],[43,2],[45,4],[47,5.5],[49,6],[51,5.5],[53,5]]},
  {c: -0.5, p: [[18,2],[20,1],[22,0],[24,-1],[26,-2],[28,-2.5],[30,-2.8],[32,-3],[34,-3.3],[36,-3],[38,-2],[40,0],[42,2.5],[44,4.5],[46,5.8],[48,6.5],[49,6.6],[50.5,6],[52,4.5],[53,3.5]]},
  {c: 1.8, p: [[19,1.5],[21,0.8],[23,0],[25,-1],[27,-2],[29,-2.5],[31,-2.8],[33,-2.8],[35,-2.5],[37,-2],[39,-1],[41,1],[43,3],[45,4.5],[47,5.3],[49,5.6],[51,5.5],[53,5],[55,4.5],[57,4]]},
  {c: -1.8, p: [[22.5,2.6],[24,1.5],[26,0],[28,-1],[30,-1.8],[32,-2.2],[34,-2.5],[36,-2.5],[38,-2.2],[40,-2.2],[41,-2]]},
  {c: 3.8, p: [[21.5,-0.3],[24,-0.6],[27,-0.8],[30,-1],[33,-1.1],[36,-1.1],[39,-1],[42,-0.8],[45,-0.3],[48,0.5],[51,1],[53,1.3],[55,1.4]]},
  {c: -1.8, p: [[37.6,-0.3],[39,-1.5],[40.5,-2.8],[42,-3.8],[43.5,-4.5],[44.3,-4.5]]},
  {c: 1, p: [[25,0.5],[27,-0.5],[29,-1.5],[31,-2.5],[33,-3],[35,-3.2],[37,-3],[39,-2.5],[41,-1],[43,1],[45,3],[47,4.5],[49,5.2],[51,5.5]]},
  {c: 1, p: [[26,-1.5],[28,-2.2],[30,-2.8],[32,-3.3],[34,-3.5],[36,-3.4],[38,-2.8],[40,-1.5],[42,0.5],[44,2.5],[46,4],[48,5],[50,5.5]]},
  {c: 0.2, p: [[20,1.5],[22,0.8],[24,0],[26,-1],[28,-1.8],[30,-2.2],[32,-2.5],[34,-2.8],[36,-2.8],[38,-2.5],[40,-1.5],[42,0.5],[44,2.8],[46,4.5],[48,5.5],[50,5.8],[52,5.6],[54,5.4],[56,5]]},
  {c: 2.5, p: [[20,1],[22,0.3],[24,-0.5],[26,-1.2],[28,-1.8],[30,-2],[32,-2.2],[34,-2.5],[36,-2.4],[38,-2],[40,-0.5],[42,1.5],[44,3],[46,4],[48,4.8],[50,5.2],[52,5.5]]},
  {c: -1.5, p: [[44,-2],[46,-2.5],[48,-2.2],[50,-1],[51,0.5],[52,2.5],[54,4],[56,4.5],[58,4.2],[60,3.5],[61,3]]},
  {c: 0.5, p: [[46,-2.8],[48,-2.2],[50,-0.5],[52,2],[54,4.5],[56,5.5],[58,5.2],[60,4.5],[62,3.8]]},
  {c: 3, p: [[45,-2.8],[46.5,-2.9],[48,-2.5],[50,-1],[51,1],[52,3]]},
  {c: 1.2, p: [[40,-2],[42,-1],[44,1],[46,3],[48,4.5],[50,5],[52,5.5],[54,5.8],[56,5.5],[58,5],[60,4.5],[62,4]]},
  {c: -0.8, p: [[50,3.5],[52,4.5],[54,5],[56,5.2],[58,4.5],[60,3.5],[62,2.5],[63,1.8]]},
  {c: 2.8, p: [[50,3.5],[52,3.8],[53.5,3.6]]},
  {c: 3.5, p: [[57.5,2.3],[59,2.6],[60.5,2.8]]},
  {c: 1.5, p: [[56,5.5],[58,5],[60,4.2],[62,3],[64,2.5]]},
  {c: 0.8, p: [[53,5.8],[55,5.6],[57,5.4],[59,5],[61,4.8]]},
  {c: 0.6, p: [[58,4.8],[60,4.5],[62,4.6],[64,4.2],[65.5,3.8]]},
  {c: -0.5, p: [[64,5.3],[65,5.2]]},
  {c: 1, p: [[66.5,7.2],[68,6.5],[70,5.8],[72,5],[74,4.5],[76,4.2]]},
  {c: -1, p: [[68,6],[70,6.2],[71,5.8],[73,4.5],[75,3.5],[77,2.8]]},
  {c: 1.8, p: [[68,5.5],[70,5.5],[72,5.3],[74,5.5],[76,6],[78,6.5],[79,6.2],[80,5.8]]},
  {c: 1.2, p: [[70,4.8],[72,4.8],[74,5],[76,5],[78,5.2],[80,5.8],[81.5,6.4]]},
  {c: 2.2, p: [[73,4.5],[75,5.2],[77,6],[78.5,6.5]]},
  {c: 0.5, p: [[66,3.2],[68,3.5],[70,3.5],[72,3.2],[74,3.3],[76,3.8],[78,4.3],[80,4.5]]},
  {c: 3.8, p: [[70,3.3],[72,2.7],[74,2.6],[76,2.8],[78,2.9],[80.2,2.9]]},
  {c: 1.5, p: [[65.8,0.8],[68,1.3],[70,1.8],[72,2.2],[74,2.6],[75.6,2.6]]},
  {c: -0.5, p: [[70,5.2],[72,4.5],[74,3.8],[76,3.2],[78,3],[80,3.2]]},
  {c: -1.2, p: [[85.5,7.4],[87,7.5],[89,7.2],[91,6],[93,5],[95,4],[97,3],[98.9,2.1]]},
  {c: 3.8, p: [[84.8,8.5],[85.5,7.8],[86.5,7],[88,6.5],[89.5,6]]},
  {c: 1.5, p: [[84.5,7.2],[86,7],[88,6.5],[90,6],[91.5,5.5],[93,5.8]]},
  {c: 3.2, p: [[85,5.4],[87,5.4],[89,5.5],[90.5,5.8],[92,6]]},
  {c: 0.8, p: [[85,6.2],[87,6],[89,5.5],[91,5],[93,5.2]]},
  {c: -0.5, p: [[85,4.5],[87,4],[89,3.5],[91,3.2],[92,3]]},
  {c: 1, p: [[86,4.8],[87.5,4.2],[89,3.2],[90.5,2.5],[91.5,2.1]]},
  {c: 0.2, p: [[84.5,4],[86,3.5],[87.5,3],[89,2.5],[90.5,2.2]]},
  {c: 2, p: [[88,4],[89.5,4.5],[91,5],[92.5,6],[93.5,6.3]]}
];

// Viridis-Farbe für einen Wert
function viridis(v) {
  let t = (v - colorRange[0]) / (colorRange[1] - colorRange[0]);
  t = Math.max(0, Math.min(1, t)) * (viridisStops.length - 1);
  const i = Math.min(Math.floor(t), viridisStops.length - 2);
  const f = t - i;
  const a = hexToRgb(viridisStops[i]), b = hexToRgb(viridisStops[i + 1]);
  const mix = k => Math.round(a[k] + (b[k] - a[k]) * f);
  return `rgb(${mix(0)},${mix(1)},${mix(2)})`;
}

function hexToRgb(h) {
  return [1, 3, 5].map(k => parseInt(h.substr(k, 2), 16));
}

// Rahmen um jedes Panel
const panelBorder = {
  id: 'panelBorder',
  afterDatasetsDraw(chart) {
    const a = chart.chartArea, ctx = chart.ctx;
    ctx.save();
    ctx.strokeStyle = '#333';
    ctx.lineWidth = 1.6;
    ctx.strokeRect(a.left, a.top, a.right - a.left, a.bottom - a.top);
    ctx.restore();
  }
};

const isMajorX = v => v % 25 === 0;
const isMajorY = v => v % 4 === 0;

function makeChart(id, lines, cfg) {
  return new Chart(document.getElementById(id), {
    type: 'line',
    data: {
      datasets: lines.map(l => ({
        data: l.p.map(([x, y]) => ({x, y})),
        borderColor: viridis(l.c),
        borderWidth: 2.6,
        pointRadius: 0,
        tension: 0.4,
        fill: false
      }))
    },
    options: {
      responsive: false,
      animation: false,
      devicePixelRatio: 1,
      events: [],
      layout: {padding: cfg.padding},
      plugins: {legend: {display: false}, tooltip: {enabled: false}},
      scales: {
        x: {
          type: 'linear',
          min: xRange[0],
          max: xRange[1],
          afterBuildTicks: s => { s.ticks = xTicks.map(v => ({value: v})); },
          afterFit: s => { s.height = cfg.xHeight; },
          border: {display: false},
          grid: {
            color: '#EBEBEB',
            lineWidth: c => isMajorX(c.tick.value) ? 2.2 : 1.1,
            drawTicks: cfg.xLabels,
            tickLength: 6,
            tickWidth: 1.6,
            tickColor: c => isMajorX(c.tick.value) ? '#333' : 'rgba(0,0,0,0)'
          },
          ticks: {
            display: cfg.xLabels,
            autoSkip: false,
            minRotation: 45,
            maxRotation: 45,
            padding: -3,
            color: '#4D4D4D',
            font: {family: "'Open Sans', sans-serif", size: 27},
            callback: v => isMajorX(v) ? v + '%' : ''
          }
        },
        y: {
          type: 'linear',
          min: yRange[0],
          max: yRange[1],
          afterBuildTicks: s => { s.ticks = yTicks.map(v => ({value: v})); },
          afterFit: s => { s.width = cfg.yWidth; },
          border: {display: false},
          grid: {
            color: '#EBEBEB',
            lineWidth: c => isMajorY(c.tick.value) ? 2.2 : 1.1,
            drawTicks: cfg.yLabels,
            tickLength: 6,
            tickWidth: 1.6,
            tickColor: c => isMajorY(c.tick.value) ? '#333' : 'rgba(0,0,0,0)'
          },
          ticks: {
            display: cfg.yLabels,
            autoSkip: false,
            padding: 4,
            color: '#4D4D4D',
            font: {family: "'Open Sans', sans-serif", size: 27},
            callback: v => isMajorY(v) ? String(v) : ''
          }
        }
      }
    },
    plugins: [panelBorder]
  });
}

// Farbbalken der Legende
function buildColorbar() {
  const bar = document.getElementById('colorbar');
  const w = 195, h = 38;
  bar.style.background = 'linear-gradient(to right,' +
    viridisStops.map((s, i) => `${s} ${i * 100 / (viridisStops.length - 1)}%`).join(',') + ')';
  const wrap = document.getElementById('wrap');
  colorTicks.forEach(v => {
    const x = (v - colorRange[0]) / (colorRange[1] - colorRange[0]) * w;
    [0, h - 8].forEach(top => {
      const t = document.createElement('div');
      t.className = 'cb-tick';
      t.style.left = (x - 1) + 'px';
      t.style.top = top + 'px';
      t.style.height = '8px';
      bar.appendChild(t);
    });
    const lab = document.createElement('div');
    lab.className = 'cb-label';
    lab.style.left = (1010 + x) + 'px';
    lab.style.top = '864px';
    lab.textContent = String(v);
    wrap.appendChild(lab);
  });
}

function draw() {
  makeChart('cTL', exclFall, {padding: {top: 20, bottom: 20, left: 0, right: 5}, yWidth: 94.5, xHeight: 0, xLabels: false, yLabels: true});
  makeChart('cTR', questFall, {padding: {top: 20, bottom: 20, left: 8, right: 11}, yWidth: 0, xHeight: 0, xLabels: false, yLabels: false});
  makeChart('cBL', exclLevel, {padding: {top: 20, bottom: 0, left: 0, right: 5}, yWidth: 94.5, xHeight: 100, xLabels: true, yLabels: true});
  makeChart('cBR', questLevel, {padding: {top: 20, bottom: 0, left: 8, right: 11}, yWidth: 0, xHeight: 100, xLabels: true, yLabels: false});
  buildColorbar();
}

if (document.fonts && document.fonts.load) {
  document.fonts.load("27px 'Open Sans'").then(draw, draw);
} else {
  draw();
}
</script>
</body>
</html>
